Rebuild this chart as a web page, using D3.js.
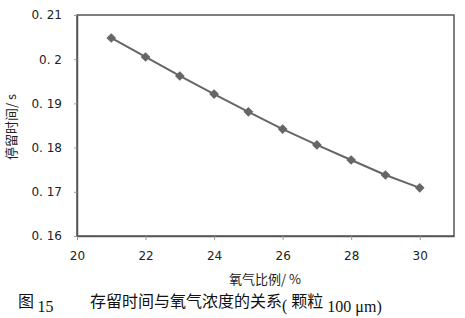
<!DOCTYPE html>
<html>
<head>
<meta charset="utf-8">
<script src="https://cdn.jsdelivr.net/npm/d3@7"></script>
<style>
body { margin: 0; background: #fff; }
svg { font-family: "DejaVu Sans", sans-serif; }
</style>
</head>
<body>
<svg width="465" height="318"></svg>
<script>
var width = 465;
var height = 318;

// oxygen ratio (%) vs residence time (s)
var oxygen = [21, 22, 23, 24, 25, 26, 27, 28, 29, 30];
var residence = [0.2048, 0.2005, 0.1962, 0.1921, 0.1881, 0.1842, 0.1806, 0.1772, 0.1738, 0.1709];
var xTicks = [20, 22, 24, 26, 28, 30];
var yTicks = [0.16, 0.17, 0.18, 0.19, 0.2, 0.21];
var yTickLabels = ['0. 16', '0. 17', '0. 18', '0. 19', '0. 2', '0. 21'];

var padLeft = 77, padRight = 454, padTop = 15, padBottom = 236;

var svg = d3.select('svg');

var xScale = d3.scaleLinear()
  .domain([20, 31])
  .range([padLeft, padRight]);

var yScale = d3.scaleLinear()
  .domain([0.16, 0.21])
  .range([padBottom, padTop]);

// frame
svg.append('rect')
  .attr('x', padLeft)
  .attr('y', padTop)
  .attr('width', padRight - padLeft)
  .attr('height', padBottom - padTop)
  .attr('fill', 'none')
  .attr('stroke', '#555')
  .attr('stroke-width', 1.5);

var xAxis = d3.axisBottom(xScale)
  .tickValues(xTicks)
  .tickSize(4)
  .tickSizeOuter(0)
  .tickPadding(11);

var yAxis = d3.axisLeft(yScale)
  .tickValues(yTicks)
  .tickSize(3)
  .tickSizeOuter(0)
  .tickPadding(12)
  .tickFormat((d, i) => yTickLabels[i]);

var gx = svg.append('g')
  .attr('transform', 'translate(0,' + padBottom + ')')
  .call(xAxis);

var gy = svg.append('g')
  .attr('transform', 'translate(' + padLeft + ',0)')
  .call(yAxis);

[gx, gy].forEach(g => {
  g.select('.domain').attr('stroke', '#555').attr('stroke-width', 1.5);
  g.selectAll('.tick line').attr('stroke', '#999');
  g.selectAll('.tick text')
    .attr('fill', '#222')
    .style('font-size', '12px')
    .style('font-family', '"DejaVu Sans", sans-serif');
});

var line = d3.line()
  .x((d, i) => xScale(oxygen[i]))
  .y(d => yScale(d));

svg.append('path')
  .datum(residence)
  .attr('d', line)
  .attr('fill', 'none')
  .attr('stroke', '#666')
  .attr('stroke-width', 2);

svg.selectAll('.pt')
  .data(residence)
  .enter()
  .append('path')
  .attr('class', 'pt')
  .attr('transform', (d, i) => 'translate(' + xScale(oxygen[i]) + ',' + yScale(d) + ')')
  .attr('d', d3.symbol().type(d3.symbolDiamond2).size(60))
  .attr('fill', '#666');

// axis titles
svg.append('text')
  .attr('x', 265)
  .attr('y', 284)
  .style('text-anchor', 'middle')
  .style('font-size', '13px')
  .style('font-family', '"Noto Sans CJK SC", sans-serif')
  .attr('fill', '#222')
  .text('氧气比例/ %');

svg.append('text')
  .attr('transform', 'translate(16,' + 127 + ') rotate(-90)')
  .style('text-anchor', 'middle')
  .style('font-size', '13px')
  .style('font-family', '"Noto Sans CJK SC", sans-serif')
  .attr('fill', '#222')
  .text('停留时间/ s');

// caption
var cap = svg.append('text')
  .attr('x', 18)
  .attr('y', 307)
  .attr('fill', '#111')
  .style('font-size', '16px')
  .style('font-family', '"Noto Sans CJK SC", sans-serif');
cap.append('tspan').text('图 ');
cap.append('tspan')
  .attr('dy', 5)
  .style('font-family', '"Liberation Serif", serif')
  .text('15');
cap.append('tspan')
  .attr('x', 90)
  .attr('dy', -5)
  .text('存留时间与氧气浓度的关系');
cap.append('tspan')
  .attr('dy', 4)
  .style('font-family', '"Liberation Serif", serif')
  .text('( ');
cap.append('tspan')
  .attr('dy', -4)
  .text('颗粒');
cap.append('tspan')
  .attr('dy', 5)
  .style('font-family', '"Liberation Serif", serif')
  .text(' 100 μm)');
</script>
</body>
</html>
